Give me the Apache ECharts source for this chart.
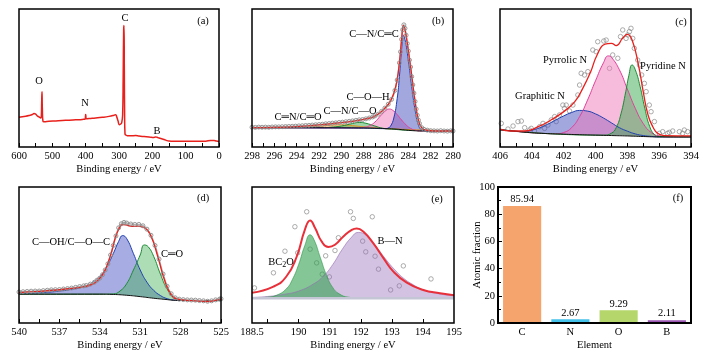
<!DOCTYPE html>
<html>
<head>
<meta charset="utf-8">
<script src="https://cdn.jsdelivr.net/npm/echarts@6/dist/echarts.min.js"></script>
<style>
html, body { margin: 0; background: #fff; }
#chart { width: 725px; height: 363px; }
</style>
</head>
<body>
<div id="chart"></div>
<script>
// (a) survey spectrum, [binding energy, intensity %]
var aSurvey = [[600,21.5],[590,22],[580,22.3],[570,22.8],[560,23.5],[555,24.2],[550,23.8],[545,22.5],[540,21.8],[535,21],[533,22.5],[532,32],[531,40],[530,28],[528,18.5],[525,18.3],[510,18.6],[490,18.9],[470,19.2],[450,19.4],[430,19.7],[410,20],[402,20.2],[400,23.5],[398,20.4],[390,20.6],[370,21],[350,21.5],[330,22.2],[315,23],[310,23.4],[307,22],[303,19],[299,16.2],[296,16.5],[292,17.5],[289,24],[287.5,50],[286,85],[285,88],[284,55],[283,20],[282,9.5],[280,8.7],[275,8.2],[265,8.1],[250,8.3],[240,8],[225,7.6],[210,7.3],[195,6.9],[190,7.3],[186,7.1],[180,6.5],[170,5.8],[160,5],[150,4.3],[140,4.2],[120,4.1],[100,4.1],[80,4.1],[60,4.1],[40,4.2],[25,4.8],[15,4.7],[8,4.3],[0,3.9]];

// (b) C 1s
var bBackground = [[298,14],[290,13.9],[287,13.6],[286,13.3],[285,12.9],[284.5,12.5],[284,12.1],[283.5,11.8],[283,11.6],[280,11.6]];
var bCC = [[298,14],[288,13.7],[286,13.3],[285.8,13.8],[285.6,15],[285.3,21],[285,35],[284.8,51],[284.6,71],[284.45,81],[284.3,78],[284,63],[283.7,44],[283.4,27],[283.1,16],[282.8,12.4],[282.4,11.7],[280,11.6]];
var bCOH = [[298,14],[288.5,13.8],[288,14.2],[287.5,15.3],[287,18],[286.5,22.5],[286,26.5],[285.7,27.5],[285.3,26],[285,23.5],[284.6,19.5],[284.2,16],[283.8,13.5],[283.3,12],[282.8,11.6],[280,11.6]];
var bCNCO = [[298,14],[291.5,14],[291,14.3],[290,15.2],[289,17],[288.4,17.8],[287.8,17.2],[287,15.2],[286.3,13.6],[285.5,13],[284,12.1],[280,11.6]];
var bCdN = [[298,14],[294,14.1],[293,14.4],[292,15],[291,15.8],[290,16.1],[289,15.5],[288,14.6],[287,13.9],[286,13.3],[280,11.6]];
var bFit = [[298,14],[296,14.2],[294,14.8],[292,16],[290,17.6],[289,18.6],[288.4,19.4],[287.5,20.9],[287,22.3],[286.5,25],[286,29],[285.7,32],[285.3,39],[285,49],[284.8,61],[284.6,78],[284.45,88],[284.3,85],[284,70],[283.7,52],[283.4,33],[283.1,19.5],[282.8,13.8],[282.4,12.2],[281.5,11.6],[280,11.6]];
var bRaw = [[298,14.3],[297.7,14.2],[297.4,14.4],[297.1,14.3],[296.8,14.4],[296.5,14.3],[296.2,14.5],[295.9,14.6],[295.6,14.6],[295.3,14.7],[295,14.8],[294.7,14.9],[294.4,15],[294.1,15.1],[293.8,15.3],[293.5,15.4],[293.2,15.6],[292.9,15.7],[292.6,15.9],[292.3,16.1],[292,16.3],[291.7,16.5],[291.4,16.8],[291.1,17],[290.8,17.3],[290.5,17.5],[290.2,17.8],[289.9,18],[289.6,18.3],[289.3,18.6],[289,18.9],[288.7,19.3],[288.4,19.7],[288.1,19.9],[287.8,20.4],[287.5,21],[287.2,21.8],[287,22.5],[286.7,23.8],[286.4,25.8],[286.1,28.2],[285.8,31],[285.5,34.5],[285.2,41],[285,48.5],[284.8,61],[284.7,69],[284.6,78],[284.5,85],[284.4,88.5],[284.3,86],[284.2,81],[284.1,75],[284,69.5],[283.9,63],[283.8,58],[283.7,51],[283.6,45],[283.5,39],[283.4,33],[283.3,27.5],[283.2,23],[283.1,19.5],[283,17],[282.8,14],[282.6,12.8],[282.3,12.2],[282,11.8],[281.7,11.7],[281.4,11.6],[281.1,11.8],[280.8,11.6],[280.5,11.5],[280.2,11.7],[280,11.6]];

// (c) N 1s
var cBackground = [[406,12.5],[405.5,12],[405,11.4],[404.5,10.8],[404,10.3],[403,9.7],[402,9.3],[401,8.9],[400,8.6],[399,8.3],[398,8],[397,7.6],[396,7.3],[394,7.3]];
var cGraphitic = [[406,12.5],[405,11.4],[404.5,11.2],[404,12.2],[403.5,14],[403,16.5],[402.5,19.5],[402,22.5],[401.5,25],[401,26.5],[400.5,26],[400,24],[399.5,21],[399,17.5],[398.5,14],[398,11.5],[397.5,9.5],[397,8.3],[396.5,7.7],[396,7.3],[394,7.3]];
var cPyrrolic = [[406,12.5],[403,9.7],[402.5,9.6],[402,10.5],[401.5,14],[401,22],[400.5,34],[400,48],[399.5,61],[399.2,66],[399,65],[398.5,56],[398,42],[397.5,28],[397,17],[396.5,10.5],[396,8],[395.5,7.4],[394,7.3]];
var cPyridine = [[406,12.5],[400,8.6],[399.5,8.6],[399,10],[398.7,14],[398.4,24],[398.1,40],[397.9,52],[397.7,59.5],[397.5,56],[397.2,44],[396.9,28],[396.6,15],[396.3,9],[396,7.6],[394,7.3]];
var cFit = [[406,13],[405.3,11.6],[404.45,11.6],[403.6,14.7],[402.8,19.6],[401.95,26],[401.3,32.9],[400.8,42.5],[400.3,54.6],[399.9,66.7],[399.4,74.6],[399,75.1],[398.7,73.5],[398.3,78.7],[398,81.6],[397.7,77.5],[397.3,59.4],[397,40],[396.7,23.2],[396.4,14.7],[396.1,9.9],[395.7,8.2],[394,8]];
var cRaw = [[405.92,17.1],[405.5,13],[405.18,15.2],[404.87,18.4],[404.66,18.8],[404.45,14],[404.14,12.3],[404.04,13.5],[403.83,11.6],[403.51,14.7],[403.3,17.1],[403.2,13.5],[402.99,15.9],[402.78,19.6],[402.57,22],[402.47,18.4],[402.26,23.2],[402.05,30.4],[401.95,28],[401.84,30.4],[401.63,26.1],[401.42,30.4],[401.11,37.7],[401,44.9],[400.9,53.4],[400.69,52.2],[400.48,54.6],[400.17,70.3],[399.96,69.1],[399.86,76.3],[399.48,76.8],[399.33,77.5],[399.12,57],[398.92,66.7],[398.6,64.3],[398.43,80],[398.29,84.8],[398.08,78.7],[397.97,81.2],[397.87,83.6],[397.77,86],[397.66,78.7],[397.56,71.5],[397.35,63],[397.24,59.4],[397.1,52.2],[396.93,46.1],[396.82,40.1],[396.62,30.4],[396.51,25.6],[396.3,18.4],[395.99,9.9],[395.78,11.1],[395.47,9.9],[395.36,10.6],[395.15,11.6],[394.73,11.1],[394.53,9.9],[394.42,12.3],[394.21,11.1]];

// (d) O 1s
var dBackground = [[540,21.2],[534,21.2],[533,21],[532,20.4],[531,19.4],[530,18.2],[529,17.2],[528.5,16.7],[527,16.5],[525,16.5]];
var dCOH = [[540,21.5],[538,22.5],[537,23.5],[536,25],[535,27.5],[534.5,30],[534,34],[533.5,41],[533,51],[532.6,60],[532.3,64.3],[532,62],[531.5,51],[531,39],[530.5,30],[530,24],[529.5,20.2],[529,17.9],[528.5,16.9],[528,16.6],[525,16.5]];
var dCO = [[540,21.2],[534,21.2],[533,21.4],[532.5,23.5],[532,29],[531.5,39],[531,50],[530.7,57.4],[530.4,56],[530,49],[529.5,36],[529,25],[528.5,19],[528,17],[527,16.5],[525,16.5]];
var dFit = [[540,22.4],[539,23],[537.6,23.9],[536.5,25],[535.1,26.8],[534.5,28.8],[534.1,31.8],[533.7,37],[533.4,44],[533.1,53],[532.9,61],[532.6,68.7],[532.3,72.4],[531.9,71.7],[531.5,71],[531.2,71.2],[530.7,70],[530.2,63.8],[529.7,49],[529.2,31.8],[528.7,20.7],[528.2,17.5],[527.2,16.5],[526,15.8],[525.5,16.5],[525,17.5]];
var dRaw = [[540,22.8],[539.7,23],[539.4,23.2],[539.1,23.4],[538.8,23.5],[538.5,23.5],[538.2,23.8],[537.9,24.1],[537.6,24.4],[537.3,24.5],[537,24.6],[536.7,25],[536.4,25.3],[536.1,25.7],[535.8,26.2],[535.5,26.8],[535.2,27.3],[535,27.6],[534.7,28.6],[534.4,30],[534.2,31.5],[534,33],[533.8,35.5],[533.6,39],[533.4,43.5],[533.2,50],[533,57],[532.8,64],[532.6,70],[532.4,73],[532.2,74],[532,73.5],[531.7,72.8],[531.4,72.5],[531.1,72.5],[530.8,71.5],[530.5,69],[530.2,64.5],[529.9,57],[529.6,47],[529.3,36],[529,27],[528.7,21.5],[528.4,18.5],[528.1,17.5],[527.8,17.2],[527.5,17],[527.2,16.9],[526.9,16.8],[526.6,16.5],[526.3,16.3],[526,16],[525.7,16.3],[525.4,17],[525.1,17.6],[525,17.8]];

// (e) B 1s
var eBackground = [[188.5,18.2],[195,18.2]];
var eBC2O = [[188.5,18.4],[189,19],[189.3,20.5],[189.6,25],[189.8,32],[190,43],[190.2,57],[190.37,64.9],[190.5,61],[190.7,48],[190.9,35],[191.1,26],[191.3,21.5],[191.6,19],[192,18.3],[195,18.2]];
var eBN = [[188.5,18.8],[189,19.5],[189.5,21],[190,23.5],[190.5,29],[190.8,34.5],[191.1,43],[191.4,54],[191.7,63],[191.92,66.6],[192.2,64],[192.5,56],[192.8,47],[193.1,39],[193.4,32.5],[193.7,28],[194,24.5],[194.5,21.5],[195,20]];
var eFit = [[188.5,22.2],[189.19,26.8],[189.6,34],[189.94,48.9],[190.2,68.5],[190.37,75.4],[190.53,69.8],[190.74,60],[190.96,55.8],[191.17,57.5],[191.44,63.6],[191.71,68.5],[191.87,69.5],[192.08,67.3],[192.4,58.7],[192.73,47.7],[193.05,37.8],[193.48,29.7],[194.01,24.3],[194.55,21.9],[195,20.4]];
var eRaw = [[188.58,25.8],[189.19,36.9],[189.56,52.8],[189.88,70.8],[189.97,51.6],[190.26,81.8],[190.37,54.3],[190.58,44.2],[190.76,35.9],[190.87,49.4],[190.99,33.9],[191.17,53.3],[191.28,62.7],[191.67,81.8],[191.76,76.9],[192.06,60.2],[192.16,52.3],[192.37,78.1],[192.46,49.1],[192.57,39.6],[192.96,24.3],[193.24,27.3],[193.37,42],[194.26,32.4]];
var eLabelTicks = [188.5, 190, 191, 192, 193, 194, 195];
var eTicks = [189, 190, 191, 192, 193, 194];

// (f) atomic fraction
var elements = ['C', 'N', 'O', 'B'];
var fractions = [85.94, 2.67, 9.29, 2.11];
var elementColors = ['#f5a46e', '#45c2ea', '#b4d66a', '#9a55b0'];

var FONT = "'Liberation Serif','DejaVu Serif',serif";
var FS = 10;
var RED = '#e8201c';
var GRAY = '#8c8c8c';

var boxes = [
    { left: 19,  top: 9,   width: 200, height: 138 },
    { left: 252, top: 9,   width: 201, height: 138 },
    { left: 500, top: 9,   width: 191, height: 138 },
    { left: 19,  top: 187, width: 202, height: 136 },
    { left: 252, top: 187, width: 202, height: 136 },
    { left: 498, top: 187, width: 193, height: 136 }
];

var tickStyle = { color: '#000', width: 1 };
var labelStyle = { fontFamily: FONT, fontSize: FS + 0.5, color: '#000' };

function energyAxis(gi, min, max, interval, inverse) {
    return {
        type: 'value', gridIndex: gi, min: min, max: max, interval: interval, inverse: inverse, z: 5,
        name: 'Binding energy / eV', nameLocation: 'middle', nameGap: 17,
        nameTextStyle: labelStyle,
        axisLine: { show: false },
        axisTick: { show: true, inside: true, length: 4, lineStyle: tickStyle },
        minorTick: { show: true, splitNumber: 2, length: 4, lineStyle: tickStyle },
        axisLabel: { fontFamily: FONT, fontSize: FS + 0.5, color: '#000', margin: 4 },
        splitLine: { show: false }
    };
}

function hiddenY(gi) {
    return { type: 'value', gridIndex: gi, min: 0, max: 100, show: false };
}

function comp(gi, data, line, fill) {
    return {
        type: 'line', xAxisIndex: gi, yAxisIndex: gi, data: data,
        smooth: 0.5, showSymbol: false, silent: true,
        lineStyle: { color: line, width: 1 },
        areaStyle: { color: fill, opacity: 1 }
    };
}

function cover(gi, data) {
    return {
        type: 'line', xAxisIndex: gi, yAxisIndex: gi, data: data,
        smooth: 0.5, showSymbol: false, silent: true,
        lineStyle: { width: 0 },
        areaStyle: { color: '#fff', opacity: 1 }
    };
}

function curve(gi, data, color, width) {
    return {
        type: 'line', xAxisIndex: gi, yAxisIndex: gi, data: data,
        smooth: 0.5, showSymbol: false, silent: true,
        lineStyle: { color: color, width: width }
    };
}

function dotsLine(gi, data) {
    return {
        type: 'line', xAxisIndex: gi, yAxisIndex: gi, data: data,
        smooth: 0.4, symbol: 'circle', symbolSize: 4, showSymbol: true, silent: true,
        lineStyle: { color: '#b0b0b0', width: 1.5 },
        itemStyle: { color: 'rgba(255,255,255,0)', borderColor: GRAY, borderWidth: 0.9 }
    };
}

function dots(gi, data) {
    return {
        type: 'scatter', xAxisIndex: gi, yAxisIndex: gi, data: data,
        symbol: 'circle', symbolSize: 4.5, silent: true,
        itemStyle: { color: 'rgba(255,255,255,0)', borderColor: GRAY, borderWidth: 0.9 }
    };
}

function txt(x, y, s, extra) {
    var style = { text: s, font: (FS + 0.5) + 'px ' + FONT, fill: '#000', align: 'center', verticalAlign: 'middle' };
    if (extra) for (var k in extra) style[k] = extra[k];
    return { type: 'text', x: x, y: y, z: 100, silent: true, style: style };
}

var eAxis = energyAxis(4, 188.5, 195, null, false);
delete eAxis.interval;
eAxis.minorTick = { show: false };
eAxis.axisTick.customValues = eTicks;
eAxis.axisLabel.customValues = eLabelTicks;

var xAxes = [
    energyAxis(0, 0, 600, 100, true),
    energyAxis(1, 280, 298, 2, true),
    energyAxis(2, 394, 406, 2, true),
    energyAxis(3, 525, 540, 3, true),
    eAxis,
    {
        type: 'category', gridIndex: 5, data: elements, z: 5,
        name: 'Element', nameLocation: 'middle', nameGap: 17, nameTextStyle: labelStyle,
        axisLine: { show: false }, axisTick: { show: false },
        axisLabel: { fontFamily: FONT, fontSize: FS + 0.5, color: '#000', margin: 4 }
    }
];

var yAxes = [hiddenY(0), hiddenY(1), hiddenY(2), hiddenY(3), hiddenY(4), {
    type: 'value', gridIndex: 5, min: 0, max: 100, interval: 20, z: 5,
    name: 'Atomic fraction', nameLocation: 'middle', nameGap: 15, nameMoveOverlap: false,
    nameTextStyle: labelStyle,
    axisLine: { show: false },
    axisTick: { show: true, inside: true, length: 4, lineStyle: tickStyle },
    minorTick: { show: true, splitNumber: 2, length: 3, lineStyle: tickStyle },
    axisLabel: { fontFamily: FONT, fontSize: FS + 0.5, color: '#000', margin: 3 },
    splitLine: { show: false }
}];

var series = [
    curve(0, aSurvey, RED, 1.5),

    comp(1, bCdN, '#e0902a', 'rgba(240,165,60,0.5)'),
    comp(1, bCNCO, '#1d8a35', 'rgba(60,170,80,0.5)'),
    comp(1, bCOH, '#e0409a', 'rgba(240,120,185,0.5)'),
    comp(1, bCC, '#1c3db5', 'rgba(70,80,190,0.5)'),
    cover(1, bBackground),
    curve(1, bBackground, '#111', 1),
    dotsLine(1, bRaw),
    curve(1, bFit, RED, 1.3),

    comp(2, cGraphitic, '#2040b0', 'rgba(70,80,190,0.5)'),
    comp(2, cPyrrolic, '#e0409a', 'rgba(240,120,185,0.5)'),
    comp(2, cPyridine, '#1d8a35', 'rgba(60,170,80,0.5)'),
    cover(2, cBackground),
    curve(2, cBackground, '#111', 1),
    curve(2, cFit, RED, 1.3),
    dots(2, cRaw),

    comp(3, dCOH, '#2040b0', 'rgba(80,90,200,0.5)'),
    comp(3, dCO, '#1d8a35', 'rgba(70,180,90,0.45)'),
    cover(3, dBackground),
    curve(3, dBackground, '#111', 1),
    dotsLine(3, dRaw),
    curve(3, dFit, RED, 1.3),

    comp(4, eBN, 'rgba(150,110,180,0.6)', 'rgba(150,110,185,0.42)'),
    comp(4, eBC2O, 'rgba(40,150,70,0.6)', 'rgba(50,160,80,0.6)'),
    cover(4, eBackground),
    curve(4, eBackground, '#c4c6d6', 2.5),
    curve(4, eFit, '#e8303a', 2),
    dots(4, eRaw),

    {
        type: 'bar', xAxisIndex: 5, yAxisIndex: 5, barWidth: '79%', silent: true,
        data: fractions.map(function (v, i) { return { value: v, itemStyle: { color: elementColors[i] } }; }),
        label: { show: true, position: 'top', distance: 1, fontFamily: FONT, fontSize: FS + 0.5, color: '#000' }
    }
];

var graphics = boxes.map(function (b, i) {
    return {
        type: 'rect', z: 100, silent: true,
        shape: { x: b.left, y: b.top, width: b.width, height: b.height },
        style: { fill: 'none', stroke: '#000', lineWidth: i === 5 ? 2 : 1.5 }
    };
});
graphics = graphics.concat([
    txt(203, 21, '(a)'), txt(438, 21, '(b)'), txt(681, 22, '(c)'),
    txt(203, 198, '(d)'), txt(437, 199, '(e)'), txt(678, 198, '(f)'),
    txt(39, 81, 'O'), txt(85, 103, 'N'), txt(125, 18, 'C'), txt(157, 131, 'B'),
    txt(374, 34, 'C—N/C═C'), txt(368, 97, 'C—O—H'), txt(350, 111, 'C—N/C—O'), txt(298, 117, 'C═N/C═O'),
    txt(565, 60, 'Pyrrolic N'), txt(663, 66, 'Pyridine N'), txt(540, 96, 'Graphitic N'),
    txt(71, 242, 'C—OH/C—O—C'), txt(172, 254, 'C═O'),
    txt(390, 241, 'B—N'),
    txt(281, 262, '{n|BC}{s|2}{n|O}', {
        rich: {
            n: { font: (FS + 0.5) + 'px ' + FONT, fill: '#000' },
            s: { font: '8px ' + FONT, fill: '#000', padding: [6, 0, 0, 0] }
        }
    })
]);

var chart = echarts.init(document.getElementById('chart'), null, { renderer: 'canvas' });
chart.setOption({
    animation: false,
    backgroundColor: '#fff',
    grid: boxes,
    xAxis: xAxes,
    yAxis: yAxes,
    series: series,
    graphic: graphics
});
</script>
</body>
</html>
